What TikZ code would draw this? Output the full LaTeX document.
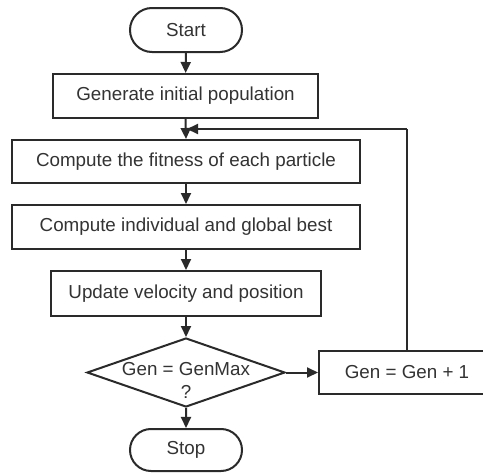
\documentclass[tikz,border=0pt]{standalone}
\usepackage{fontspec}
\setmainfont{Liberation Sans}
\usetikzlibrary{arrows.meta,shapes.geometric,shapes.misc}
\definecolor{ink}{HTML}{2A2A2A}
\definecolor{txt}{HTML}{333333}
\tikzset{
  lbl/.style={text=txt, font=\fontsize{18.8}{22}\selectfont, inner sep=0pt},
  base/.style={lbl, draw=ink, line width=2pt},
  procbox/.style={base, rectangle, minimum height=44pt},
  term/.style={base, rounded rectangle, minimum width=112pt, minimum height=44pt},
  decide/.style={base, diamond, aspect=2.87, minimum width=198pt, minimum height=69pt},
  conn/.style={draw=ink, line width=2pt, -{Triangle[length=11pt,width=10pt]}},
  plain/.style={draw=ink, line width=2pt}
}
\begin{document}
\begin{tikzpicture}[x=1pt,y=-1pt]
\useasboundingbox (0,0) rectangle (483,474);
\clip (0,0) rectangle (483,474);
\fill[white] (0,0) rectangle (483,474);
\node[term] (start) at (186,30) {Start};
\node[procbox, minimum width=265pt] (gen) at (185.5,96) {Generate initial population};
\node[procbox, minimum width=348pt, minimum height=43pt] (fit) at (186,161.5) {Compute the fitness of each particle};
\node[procbox, minimum width=348pt] (best) at (186,227) {Compute individual and global best};
\node[procbox, minimum width=270pt, minimum height=45pt] (upd) at (186,293.5) {Update velocity and position};
\node[decide] (dec) at (186,372.5) {};
\node[lbl] (dect) at (186,369.5) {Gen = GenMax};
\node[lbl] (decq) at (186,392) {?};
\node[procbox, minimum width=176pt, minimum height=43pt] (inc) at (407,372.5) {Gen = Gen + 1};
\node[term, minimum height=42pt] (stop) at (186,450) {Stop};
\coordinate (j) at (186,129);
\coordinate (corner) at (406.5,129);
\draw[conn] (start) -- (gen);
\draw[conn] (gen.south) -- (fit.north);
\draw[conn] (fit) -- (best);
\draw[conn] (best) -- (upd);
\draw[conn] (upd) -- (dec);
\draw[conn] (dec) -- (inc);
\draw[conn] (dec) -- (stop);
\draw[plain] (inc.north -| corner) -- (corner);
\draw[conn] (corner) -- ([xshift=1pt]j);
\end{tikzpicture}
\end{document}
